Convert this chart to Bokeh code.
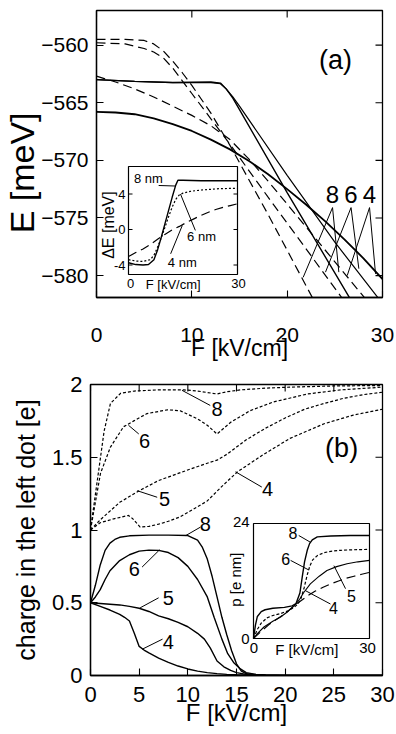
import math
from bokeh.plotting import figure
from bokeh.models import Range1d, FixedTicker
from bokeh.layouts import column
from bokeh.embed import file_html
from bokeh.resources import INLINE
from bokeh.core.properties import value

FONT = "Liberation Sans"

# ================= DATA: panel (a)  E [meV] vs F [kV/cm] =================
a_xticks = [0, 10, 20, 30]
a_yticks = [-580, -575, -570, -565, -560]
a_xlim = (0, 30)
a_ylim = (-581.9, -557.0)

a_s8_F = [0, 4, 8, 12, 13, 13.6, 14.3, 15, 20, 26.6]
a_s8_E = [-563.0, -563.15, -563.25, -563.2, -563.3, -563.8, -564.6, -565.6, -572.8, -582.0]
a_s6_F = [0, 4, 8, 12, 13, 13.6, 14.3, 15, 20, 25, 29.6]
a_s6_E = [-563.0, -563.15, -563.25, -563.25, -563.35, -563.8, -564.5, -565.3, -571.3, -577.1, -582.0]
a_s4_F = [0, 2, 4, 6, 8, 10, 12, 14, 16, 18, 20, 22, 24, 26, 28, 30]
a_s4_E = [-565.8, -565.85, -566.0, -566.35, -566.85, -567.45, -568.2, -569.05, -570.05,
          -571.2, -572.5, -573.85, -575.3, -576.85, -578.5, -580.3]
a_d8_F = [0, 3, 5, 6, 7, 8, 9, 10, 11, 12, 14, 16, 18, 20, 22.7]
a_d8_E = [-559.5, -559.5, -559.6, -559.9, -560.5, -561.4, -562.4, -563.5, -564.7, -565.9,
          -568.7, -571.7, -574.7, -577.8, -582.0]
a_d6_F = [0, 3, 4, 5, 6, 7, 8, 9, 10, 12, 14, 18, 22, 25.8]
a_d6_E = [-559.8, -559.9, -560.1, -560.3, -560.6, -561.1, -562.0, -563.1, -564.2, -566.4,
          -568.6, -573.2, -577.7, -582.0]
a_d4_F = [0, 2, 4, 6, 8, 10, 12, 14, 16, 18, 20, 22, 24, 26, 28.2]
a_d4_E = [-562.7, -563.2, -563.8, -564.5, -565.3, -566.1, -567.0, -568.2, -569.9, -571.8,
          -573.8, -575.8, -577.8, -579.8, -582.0]

a_lab_text = ["8", "6", "4"]
a_lab_F = [24.76, 26.7, 28.64]
a_lab_E = [-573.0, -573.0, -573.0]
a_lead_F0 = [24.76, 24.76, 26.7, 26.7, 28.64, 28.64]
a_lead_E0 = [-574.1] * 6
a_lead_F1 = [21.68, 25.42, 24.02, 27.52, 26.3, 29.27]
a_lead_E1 = [-580.15, -579.7, -579.7, -579.4, -580.0, -579.85]

# inset (a): Delta E [meV] vs F
ia_xlim = (0, 30)
ia_ylim = (-5.07, 7.1)
ia_yticks = [-4, 0, 4]
ia_ytick_labels = ["-4", "0", "4"]
ia_8_F = [0, 2, 4, 5.5, 7, 8, 9, 10, 11, 12, 13, 13.6, 15, 20, 25, 30]
ia_8_dE = [-3.75, -3.95, -4.0, -3.95, -3.4, -2.3, -0.9, 0.6, 2.1, 3.6, 5.0, 5.55, 5.55, 5.5, 5.5, 5.5]
ia_6_F = [0, 2, 4, 6, 7, 8, 9, 10, 11, 12, 13, 14, 15, 17, 20, 25, 30]
ia_6_dE = [-3.4, -3.55, -3.6, -3.4, -2.9, -2.0, -0.95, 0.2, 1.4, 2.5, 3.4, 3.9, 4.1, 4.3, 4.45, 4.6, 4.65]
ia_4_F = [0, 2, 4, 6, 8, 10, 12, 14, 16, 18, 20, 22, 24, 26, 28, 30]
ia_4_dE = [-3.05, -2.6, -2.2, -1.7, -1.1, -0.55, -0.05, 0.35, 0.8, 1.2, 1.6, 1.95, 2.25, 2.5, 2.7, 2.9]
ia_lab_text = ["8 nm", "6 nm", "4 nm"]
ia_lab_F = [5.5, 20.1, 14.8]
ia_lab_dE = [5.75, -0.8, -3.7]
ia_lead_F0 = [8.3, 14.3, 11.6]
ia_lead_dE0 = [4.96, 4.0, -2.74]
ia_lead_F1 = [12.9, 18.4, 14.8]
ia_lead_dE1 = [4.9, -0.1, 0.45]

# ================= DATA: panel (b)  charge in the left dot [e] =================
b_xticks = [0, 5, 10, 15, 20, 25, 30]
b_yticks = [0, 0.5, 1, 1.5, 2]
b_ytick_labels = ["0", "0.5", "1", "1.5", "2"]
b_xlim = (0, 30)
b_ylim = (0, 2)

b_d8_F = [0, 0.7, 1.4, 2.05, 3.1, 4.5, 7, 9.6, 11, 12, 13, 14, 15.4, 18, 20.5, 25, 30]
b_d8_q = [1.0, 1.34, 1.68, 1.87, 1.94, 1.955, 1.963, 1.963, 1.955, 1.945, 1.935, 1.95, 1.963,
          1.975, 1.982, 1.99, 1.993]
b_d6_F = [0, 1.03, 2.05, 3.4, 4.45, 5.8, 7.9, 9.2, 11, 12, 13, 14.4, 16.4, 18.8, 22.3, 25.7, 30]
b_d6_q = [1.0, 1.39, 1.57, 1.71, 1.75, 1.80, 1.826, 1.82, 1.764, 1.72, 1.66, 1.74, 1.82, 1.88,
          1.935, 1.963, 1.982]
b_d5_F = [0, 1, 2, 3, 4, 5, 7, 10.3, 12.3, 13, 14, 15, 16, 18, 20, 22, 24, 26, 28, 30]
b_d5_q = [1.0, 1.07, 1.13, 1.19, 1.23, 1.27, 1.34, 1.42, 1.466, 1.48, 1.52, 1.57, 1.62, 1.70,
          1.77, 1.83, 1.87, 1.905, 1.93, 1.947]
b_d4_F = [0, 1, 2.4, 3.9, 4.3, 5.1, 6, 7, 8, 9.2, 10.5, 12, 13.5, 15.1, 17.8, 20.5, 24, 27, 30]
b_d4_q = [1.0, 1.05, 1.077, 1.10, 1.08, 1.02, 1.025, 1.04, 1.06, 1.09, 1.14, 1.20, 1.30, 1.40,
          1.52, 1.63, 1.73, 1.79, 1.83]

b_s8_F = [0, 0.5, 1, 1.5, 2, 2.5, 3, 4, 6, 8, 10, 11, 11.5, 12, 12.5, 13, 13.5, 14, 14.5, 15,
          15.5, 16, 17, 18, 20, 30]
b_s8_q = [0.5, 0.62, 0.76, 0.86, 0.91, 0.935, 0.95, 0.96, 0.965, 0.965, 0.962, 0.93, 0.88, 0.80,
          0.68, 0.54, 0.40, 0.28, 0.17, 0.08, 0.03, 0.012, 0.005, 0.002, 0.0, 0.0]
b_s6_F = [0, 0.5, 1, 1.5, 2, 3, 4, 5, 6, 7, 8, 9, 10, 11, 12, 12.7, 13.5, 14.1, 14.7, 15.4, 16,
          17, 18, 20, 30]
b_s6_q = [0.5, 0.54, 0.59, 0.66, 0.72, 0.79, 0.83, 0.855, 0.862, 0.86, 0.845, 0.81, 0.75, 0.66,
          0.54, 0.40, 0.25, 0.15, 0.09, 0.045, 0.02, 0.008, 0.003, 0.0, 0.0]
b_s5_F = [0, 1, 2, 3, 4, 5, 6, 7, 8, 9, 10, 11, 11.7, 12.3, 13, 13.7, 14.4, 15, 16, 17, 18, 20, 30]
b_s5_q = [0.5, 0.495, 0.49, 0.485, 0.475, 0.462, 0.44, 0.41, 0.39, 0.365, 0.335, 0.29, 0.25,
          0.19, 0.10, 0.06, 0.035, 0.02, 0.008, 0.003, 0.001, 0.0, 0.0]
b_s4_F = [0, 1, 2, 3, 3.5, 4, 4.5, 5, 5.5, 6, 7, 8, 9, 10, 11, 12, 13, 14, 15, 16, 18, 20, 30]
b_s4_q = [0.5, 0.475, 0.45, 0.42, 0.40, 0.375, 0.29, 0.2, 0.175, 0.155, 0.12, 0.09, 0.065, 0.045,
          0.03, 0.02, 0.013, 0.008, 0.005, 0.003, 0.001, 0.0, 0.0]

b_lab_text = ["8", "6", "5", "4", "8", "6", "5", "4"]
b_lab_F = [13.0, 5.55, 7.6, 18.2, 11.8, 4.5, 8.0, 8.0]
b_lab_q = [1.83, 1.615, 1.21, 1.28, 1.04, 0.73, 0.536, 0.227]
b_lead_F0 = [9.4, 3.9, 4.8, 14.9, 9.8, 7.1, 5.1, 5.3]
b_lead_q0 = [1.96, 1.72, 1.27, 1.40, 0.962, 0.864, 0.465, 0.18]
b_lead_F1 = [12.3, 4.96, 6.85, 17.6, 11.3, 5.3, 7.0, 7.4]
b_lead_q1 = [1.856, 1.66, 1.225, 1.295, 1.02, 0.745, 0.534, 0.25]

# inset (b): dipole p [e nm] vs F
ib_xlim = (0, 30)
ib_ylim = (0, 24)
ib_8_F = [0, 0.5, 1, 2, 3, 5, 8, 10, 11, 12, 12.6, 13.2, 13.9, 14.5, 15.2, 16.5, 20, 25, 30]
ib_8_p = [0, 2.8, 4.6, 5.6, 6.0, 6.3, 6.5, 6.8, 7.3, 9.5, 12.8, 16.0, 18.4, 19.8, 20.6, 21.2,
          21.4, 21.5, 21.5]
ib_6_F = [0, 1, 2, 3.5, 5, 7, 9, 10.5, 11.5, 12.3, 13.1, 13.9, 14.6, 15.3, 16.5, 18.2, 20,
          22.5, 25, 30]
ib_6_p = [0, 1.9, 3.2, 4.3, 4.8, 5.2, 5.8, 6.5, 7.2, 8.4, 10.6, 13.3, 15.2, 16.4, 17.3, 17.9,
          18.2, 18.4, 18.5, 18.6]
ib_5_F = [0, 1, 2.7, 5, 7, 9, 11, 12, 13, 14.7, 17, 19, 21.5, 24.2, 27, 30]
ib_5_p = [0, 1.0, 2.4, 3.6, 4.5, 5.7, 7.2, 8.3, 9.6, 11.4, 13.0, 14.2, 15.0, 15.6, 16.0, 16.3]
ib_4_F = [0, 2, 4, 6, 8, 10, 12, 14, 16, 18, 20, 22, 24, 26, 28, 30]
ib_4_p = [0, 1.5, 2.9, 4.0, 5.1, 6.5, 7.7, 8.9, 9.9, 10.7, 11.4, 12.0, 12.6, 13.0, 13.4, 13.8]
ib_lab_text = ["8", "6", "5", "4"]
ib_lab_F = [10.2, 8.3, 25.3, 20.7]
ib_lab_p = [22.0, 16.5, 8.8, 6.4]
ib_lead_F0 = [11.7, 9.6, 23.8, 19.9]
ib_lead_p0 = [21.5, 16.3, 10.4, 7.2]
ib_lead_F1 = [14.7, 14.3, 20.8, 13.4]
ib_lead_p1 = [20.1, 14.3, 15.2, 10.0]

# ================= LAYOUT (page pixels) =================
W = 396
HA = 370
HB = 734 - HA
A_L, A_R, A_T, A_B = 96, 382, 10, 297            # frame (a)
B_L, B_R, B_T, B_B = 90, 382, 384 - HA, 675 - HA  # frame (b), figure-local
IA_L, IA_R, IA_T, IA_B = 128, 237, 166, 274       # inset (a)
IB_L, IB_R, IB_T, IB_B = 253, 369, 523 - HA, 638 - HA
TICK = 7
ITICK = 4
NBSP = "\u00a0"


def inset_xrange(fl, fr, il, ir, lim):
    s = (ir - il) / (lim[1] - lim[0])
    return Range1d(lim[0] - (il - fl) / s, lim[1] + (fr - ir) / s)


def inset_yrange(ft, fb, it, ib, lim):
    s = (ib - it) / (lim[1] - lim[0])
    return Range1d(lim[0] - (fb - ib) / s, lim[1] + (it - ft) / s)


def make_fig(h, L, R, T, B, xlim, ylim):
    p = figure(width=W, height=h, x_range=Range1d(*xlim), y_range=Range1d(*ylim),
               output_backend="svg", toolbar_location=None,
               min_border_left=L, min_border_right=W - R, min_border_top=T,
               min_border_bottom=h - B)
    p.frame_align = False
    p.grid.visible = False
    p.outline_line_color = "black"
    p.outline_line_width = 1.3
    p.background_fill_color = "white"
    p.border_fill_color = "white"
    return p


def style_axes(p, xt, yt, font_size, xstand, ystand, xlabel, ylabel, xl_size, yl_size,
               xl_stand, yl_stand, yover=None):
    p.xaxis.ticker = FixedTicker(ticks=xt)
    p.yaxis.ticker = FixedTicker(ticks=yt)
    for ax in (p.xaxis[0], p.yaxis[0]):
        ax.major_tick_in = TICK
        ax.major_tick_out = 0
        ax.minor_tick_line_color = None
        ax.axis_line_width = 1.3
        ax.major_tick_line_width = 1.1
        ax.major_label_text_font = FONT
        ax.major_label_text_font_size = font_size
        ax.major_label_text_color = "black"
        ax.axis_label_text_font = FONT
        ax.axis_label_text_font_style = "normal"
        ax.axis_label_text_color = "black"
    p.xaxis[0].major_label_standoff = xstand
    p.yaxis[0].major_label_standoff = ystand
    p.xaxis[0].axis_label = xlabel
    p.yaxis[0].axis_label = ylabel
    p.xaxis[0].axis_label_text_font_size = xl_size
    p.yaxis[0].axis_label_text_font_size = yl_size
    p.xaxis[0].axis_label_standoff = xl_stand
    p.yaxis[0].axis_label_standoff = yl_stand
    if yover:
        p.yaxis[0].major_label_overrides = yover


def mirror_ticks(p, xt, yt, L, R, T, B, xlim, ylim):
    tx = TICK * (xlim[1] - xlim[0]) / (R - L)
    ty = TICK * (ylim[1] - ylim[0]) / (B - T)
    p.segment(x0=xt, x1=xt, y0=[ylim[1]] * len(xt), y1=[ylim[1] - ty] * len(xt),
              line_color="black", line_width=1.1)
    p.segment(x0=[xlim[1]] * len(yt), x1=[xlim[1] - tx] * len(yt), y0=yt, y1=yt,
              line_color="black", line_width=1.1)


def txt(p, x, y, t, size, align="center", angle=0.0, **kw):
    p.text(x=x, y=y, text=t, text_font=value(FONT), text_font_size=value(size),
           text_align=align, text_baseline="middle", text_color="black", angle=angle, **kw)


# ================= PANEL (a) =================
pa = make_fig(HA, A_L, A_R, A_T, A_B, a_xlim, a_ylim)
style_axes(pa, a_xticks, a_yticks, "21px", 30, 8, "F [kV/cm]", "E [meV]" + NBSP * 4,
           "23px", "34px", -10, -3)
mirror_ticks(pa, a_xticks, a_yticks, A_L, A_R, A_T, A_B, a_xlim, a_ylim)

for F, E in ((a_d8_F, a_d8_E), (a_d6_F, a_d6_E), (a_d4_F, a_d4_E)):
    pa.line(F, E, line_color="black", line_width=1.2, line_dash="9 5")
pa.line(a_s8_F, a_s8_E, line_color="black", line_width=1.4)
pa.line(a_s6_F, a_s6_E, line_color="black", line_width=1.2)
pa.line(a_s4_F, a_s4_E, line_color="black", line_width=1.8)

pa.segment(x0=a_lead_F0, y0=a_lead_E0, x1=a_lead_F1, y1=a_lead_E1, line_color="black", line_width=1)
txt(pa, a_lab_F, a_lab_E, a_lab_text, "24px")
txt(pa, [25.07], [-561.3], ["(a)"], "27px")

# inset (a)
pa.extra_x_ranges = {"ia": inset_xrange(A_L, A_R, IA_L, IA_R, ia_xlim)}
pa.extra_y_ranges = {"ia": inset_yrange(A_T, A_B, IA_T, IA_B, ia_ylim)}
ik = dict(x_range_name="ia", y_range_name="ia")
pa.quad(left=[ia_xlim[0]], right=[ia_xlim[1]], bottom=[ia_ylim[0]], top=[ia_ylim[1]],
        fill_color="white", line_color="black", line_width=1.2, **ik)
itx = ITICK * (ia_xlim[1] - ia_xlim[0]) / (IA_R - IA_L)
pa.segment(x0=[ia_xlim[0]] * 3, x1=[ia_xlim[0] + itx] * 3, y0=ia_yticks, y1=ia_yticks,
           line_color="black", line_width=1, **ik)
pa.segment(x0=[ia_xlim[1]] * 3, x1=[ia_xlim[1] - itx] * 3, y0=ia_yticks, y1=ia_yticks,
           line_color="black", line_width=1, **ik)
pa.line(ia_4_F, ia_4_dE, line_color="black", line_width=1.2, line_dash="9 5", **ik)
pa.line(ia_6_F, ia_6_dE, line_color="black", line_width=1.2, line_dash="2 2", **ik)
pa.line(ia_8_F, ia_8_dE, line_color="black", line_width=1.4, **ik)
pa.segment(x0=ia_lead_F0, y0=ia_lead_dE0, x1=ia_lead_F1, y1=ia_lead_dE1,
           line_color="black", line_width=1, **ik)
txt(pa, ia_lab_F, ia_lab_dE, ia_lab_text, "13px", **ik)
txt(pa, [-0.8] * 3, ia_yticks, ia_ytick_labels, "13px", align="right", **ik)
txt(pa, [0.6, 30.3], [-6.1, -6.1], ["0", "30"], "13px", **ik)
txt(pa, [12.3], [-6.2], ["F [kV/cm]"], "13px", **ik)
txt(pa, [-5.6], [0.5], ["\u0394E [meV]"], "16px", angle=math.pi / 2, **ik)

# ================= PANEL (b) =================
pb = make_fig(HB, B_L, B_R, B_T, B_B, b_xlim, b_ylim)
style_axes(pb, b_xticks, b_yticks, "22px", 11, 8, "F [kV/cm]", "charge in the left dot [e]",
           "24px", "25px", -6, 9, yover={t: s for t, s in zip(b_yticks, b_ytick_labels)})
mirror_ticks(pb, b_xticks, b_yticks, B_L, B_R, B_T, B_B, b_xlim, b_ylim)

for F, q in ((b_d8_F, b_d8_q), (b_d6_F, b_d6_q), (b_d5_F, b_d5_q), (b_d4_F, b_d4_q)):
    pb.line(F, q, line_color="black", line_width=1.2, line_dash="3 2")
for F, q in ((b_s8_F, b_s8_q), (b_s6_F, b_s6_q), (b_s5_F, b_s5_q), (b_s4_F, b_s4_q)):
    pb.line(F, q, line_color="black", line_width=1.4)
pb.segment(x0=b_lead_F0, y0=b_lead_q0, x1=b_lead_F1, y1=b_lead_q1, line_color="black", line_width=1)
txt(pb, b_lab_F, b_lab_q, b_lab_text, "20px")
txt(pb, [25.8], [1.567], ["(b)"], "27px")

# inset (b)
pb.extra_x_ranges = {"ib": inset_xrange(B_L, B_R, IB_L, IB_R, ib_xlim)}
pb.extra_y_ranges = {"ib": inset_yrange(B_T, B_B, IB_T, IB_B, ib_ylim)}
jk = dict(x_range_name="ib", y_range_name="ib")
pb.quad(left=[ib_xlim[0]], right=[ib_xlim[1]], bottom=[ib_ylim[0]], top=[ib_ylim[1]],
        fill_color="white", line_color="black", line_width=1.2, **jk)
pb.line(ib_4_F, ib_4_p, line_color="black", line_width=1.2, line_dash="9 5", **jk)
pb.line(ib_6_F, ib_6_p, line_color="black", line_width=1.2, line_dash="3 2", **jk)
pb.line(ib_5_F, ib_5_p, line_color="black", line_width=1.1, **jk)
pb.line(ib_8_F, ib_8_p, line_color="black", line_width=1.4, **jk)
pb.segment(x0=ib_lead_F0, y0=ib_lead_p0, x1=ib_lead_F1, y1=ib_lead_p1,
           line_color="black", line_width=1, **jk)
txt(pb, ib_lab_F, ib_lab_p, ib_lab_text, "16px", **jk)
txt(pb, [-1.0, -1.0], [24.3, -0.2], ["24", "0"], "15px", align="right", **jk)
txt(pb, [0.1, 29.5], [-1.9, -1.9], ["0", "30"], "15px", **jk)
txt(pb, [13.8], [-2.3], ["F [kV/cm]"], "15px", **jk)
txt(pb, [-4.65], [12.3], ["p [e nm]"], "15px", angle=math.pi / 2, **jk)

page = column(pa, pb, spacing=0)
open("out.html", "w").write(file_html(page, INLINE))
